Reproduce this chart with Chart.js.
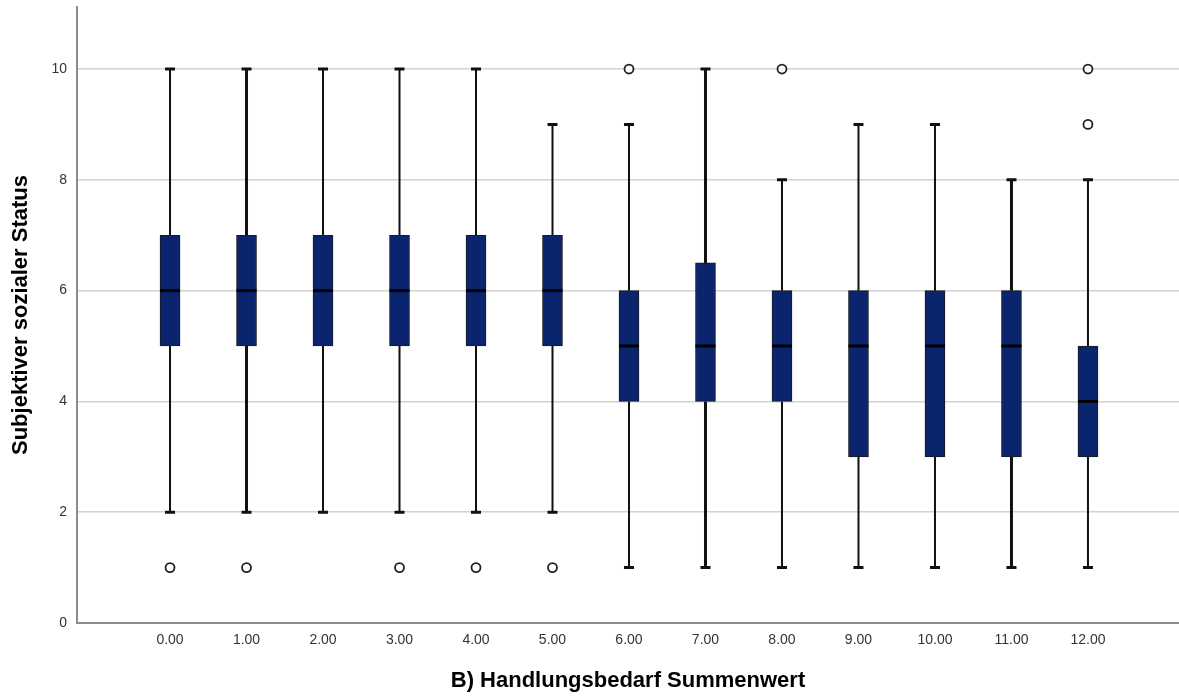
<!DOCTYPE html>
<html>
<head>
<meta charset="utf-8">
<script src="https://cdn.jsdelivr.net/npm/chart.js@4"></script>
<style>
  html, body { margin: 0; padding: 0; background: #fff; overflow: hidden; }
  canvas { display: block; }
</style>
</head>
<body>
<canvas id="c" width="1179" height="697"></canvas>
<script>
// Handlungsbedarf Summenwert (x categories)
const categories = [0, 1, 2, 3, 4, 5, 6, 7, 8, 9, 10, 11, 12];
// five-number summaries per category
const whiskerLow  = [2, 2, 2, 2, 2, 2, 1, 1, 1, 1, 1, 1, 1];
const q1          = [5, 5, 5, 5, 5, 5, 4, 4, 4, 3, 3, 3, 3];
const median      = [6, 6, 6, 6, 6, 6, 5, 5, 5, 5, 5, 5, 4];
const q3          = [7, 7, 7, 7, 7, 7, 6, 6.5, 6, 6, 6, 6, 5];
const whiskerHigh = [10, 10, 10, 10, 10, 9, 9, 10, 8, 9, 9, 8, 8];
// outliers as [category, value]
const outliers = [[0, 1], [1, 1], [3, 1], [4, 1], [5, 1], [6, 10], [8, 10], [12, 9], [12, 10]];
const yTicks = [0, 2, 4, 6, 8, 10];

const boxColor = '#0b246e';
const thickWhiskers = [1, 7, 11];

// whiskers + caps under the boxes, medians on top
const boxPlotLines = {
  id: 'boxPlotLines',
  beforeDatasetsDraw(chart) {
    const { ctx, scales: { x, y } } = chart;
    ctx.save();
    ctx.strokeStyle = '#111';
    categories.forEach((c, i) => {
      const px = x.getPixelForValue(c);
      ctx.lineWidth = thickWhiskers.includes(c) ? 3 : 2;
      ctx.beginPath();
      ctx.moveTo(px, y.getPixelForValue(whiskerLow[i]));
      ctx.lineTo(px, y.getPixelForValue(q1[i]));
      ctx.moveTo(px, y.getPixelForValue(q3[i]));
      ctx.lineTo(px, y.getPixelForValue(whiskerHigh[i]));
      ctx.stroke();
      ctx.lineWidth = 3;
      ctx.beginPath();
      [whiskerLow[i], whiskerHigh[i]].forEach(v => {
        const py = y.getPixelForValue(v);
        ctx.moveTo(px - 5, py);
        ctx.lineTo(px + 5, py);
      });
      ctx.stroke();
    });
    ctx.restore();
  },
  afterDatasetsDraw(chart) {
    const { ctx, scales: { x, y } } = chart;
    ctx.save();
    ctx.strokeStyle = '#000';
    ctx.lineWidth = 3;
    categories.forEach((c, i) => {
      const px = x.getPixelForValue(c);
      const py = y.getPixelForValue(median[i]);
      ctx.beginPath();
      ctx.moveTo(px - 10, py);
      ctx.lineTo(px + 10, py);
      ctx.stroke();
    });
    ctx.restore();
  }
};

new Chart(document.getElementById('c'), {
  type: 'bar',
  data: {
    datasets: [
      {
        type: 'bar',
        data: categories.map((c, i) => ({ x: c, y: [q1[i], q3[i]] })),
        backgroundColor: boxColor,
        borderColor: '#1a1a1a',
        borderWidth: 1,
        borderSkipped: false,
        barThickness: 20
      },
      {
        type: 'scatter',
        data: outliers.map(o => ({ x: o[0], y: o[1] })),
        pointStyle: 'circle',
        pointRadius: 4.5,
        pointBackgroundColor: '#fff',
        pointBorderColor: '#222',
        pointBorderWidth: 1.8
      }
    ]
  },
  options: {
    responsive: false,
    animation: false,
    layout: { autoPadding: false, padding: { top: 7, right: 0, left: 0, bottom: 0 } },
    plugins: { legend: { display: false }, tooltip: { enabled: false } },
    scales: {
      x: {
        type: 'linear',
        offset: false,
        min: -1.216,
        max: 13.19,
        afterBuildTicks: s => { s.ticks = categories.map(v => ({ value: v })); },
        afterFit: s => { s.height = 74; s.paddingLeft = 0; s.paddingRight = 0; },
        grid: { display: false, drawTicks: false },
        border: { display: true, color: '#8c8c8c', width: 2 },
        ticks: {
          padding: 9,
          color: '#333',
          font: { family: 'Liberation Sans', size: 14 },
          callback: v => Number(v).toFixed(2)
        },
        title: {
          display: true,
          text: 'B) Handlungsbedarf Summenwert',
          color: '#000',
          font: { family: 'Liberation Sans', size: 22, weight: 'bold' },
          padding: { top: 0, bottom: 3 }
        }
      },
      y: {
        min: 0,
        max: 11.12,
        afterBuildTicks: s => { s.ticks = yTicks.map(v => ({ value: v })); },
        afterFit: s => { s.width = 77; s.paddingTop = 0; s.paddingBottom = 0; },
        grid: {
          color: ctx => ctx.tick && ctx.tick.value === 0 ? 'rgba(0,0,0,0)' : '#d2d2d2',
          lineWidth: 1.5,
          drawTicks: false
        },
        border: { display: true, color: '#8c8c8c', width: 2 },
        ticks: {
          padding: 10,
          color: '#333',
          font: { family: 'Liberation Sans', size: 14 }
        },
        title: {
          display: true,
          text: 'Subjektiver sozialer Status',
          color: '#000',
          font: { family: 'Liberation Sans', size: 22, weight: 'bold' },
          padding: { top: 8, bottom: 0 }
        }
      }
    }
  },
  plugins: [boxPlotLines]
});
</script>
</body>
</html>
